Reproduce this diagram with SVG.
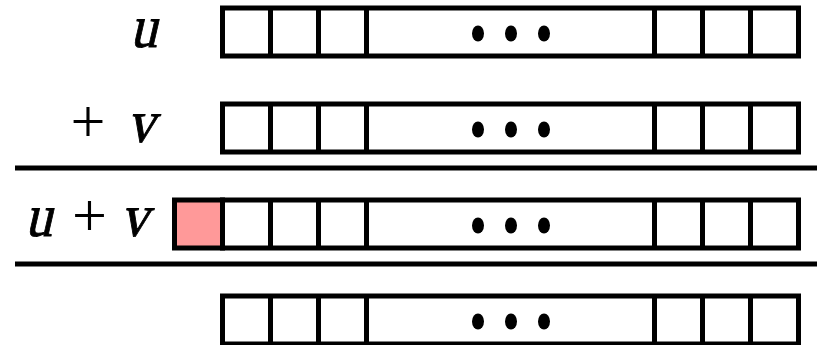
<svg xmlns="http://www.w3.org/2000/svg" width="817" height="345" viewBox="0 0 817 345">
<style>
.cell{fill:#fff;stroke:#000;stroke-width:5}
.div{stroke:#000;stroke-width:5}
.rule{stroke:#000;stroke-width:5}
.dot{fill:#000}
.var{font-family:"Liberation Serif","DejaVu Serif",serif;font-size:60px;fill:#000;stroke:#000;stroke-width:0.9px}
.op{font-family:"Liberation Serif","DejaVu Serif",serif;font-size:62px;fill:#000}
</style>
<defs>
<g id="reg">
<rect class="cell" x="222.5" y="0" width="576" height="48"/>
<line class="div" x1="270.5" y1="0" x2="270.5" y2="48"/>
<line class="div" x1="318.5" y1="0" x2="318.5" y2="48"/>
<line class="div" x1="366.5" y1="0" x2="366.5" y2="48"/>
<line class="div" x1="654.5" y1="0" x2="654.5" y2="48"/>
<line class="div" x1="702.5" y1="0" x2="702.5" y2="48"/>
<line class="div" x1="750.5" y1="0" x2="750.5" y2="48"/>
<ellipse class="dot" cx="478" cy="25.5" rx="6" ry="8"/>
<ellipse class="dot" cx="511" cy="25.5" rx="6" ry="8"/>
<ellipse class="dot" cx="544" cy="25.5" rx="6" ry="8"/>
</g>
</defs>
<g id="row-u">
<use href="#reg" x="0" y="8"/>
<text class="var" transform="translate(130,46.5) skewX(-13) scale(0.9,1)">u</text>
</g>
<g id="row-v">
<use href="#reg" x="0" y="104"/>
<text class="op" x="70.5" y="141.5">+</text>
<text class="var" transform="translate(127,141.5) skewX(-13) scale(0.92,1)">v</text>
</g>
<g id="row-sum">
<rect x="174.5" y="200" width="48" height="48" fill="#ff9999" stroke="#000" stroke-width="5"/>
<use href="#reg" x="0" y="200"/>
<text class="var" transform="translate(25,235.5) skewX(-13) scale(0.9,1)">u</text>
<text class="op" x="72" y="235.5">+</text>
<text class="var" transform="translate(120.5,235.5) skewX(-13) scale(0.92,1)">v</text>
</g>
<g id="row-carry">
<use href="#reg" x="0" y="296"/>
</g>
<g id="rules">
<line class="rule" x1="15" y1="168" x2="817" y2="168"/>
<line class="rule" x1="15" y1="264" x2="817" y2="264"/>
</g>
</svg>
